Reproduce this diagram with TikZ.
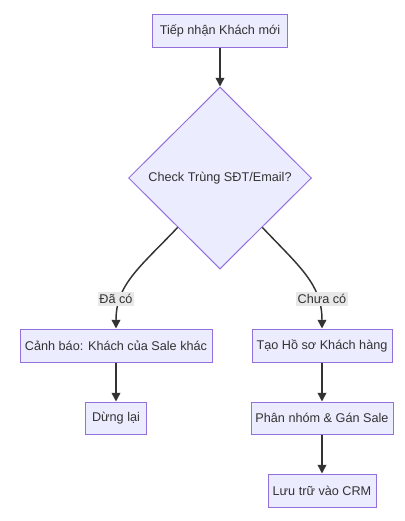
\documentclass[tikz,border=0pt]{standalone}
\usepackage{fontspec}
\setmainfont{Liberation Sans}
\usetikzlibrary{shapes.geometric,arrows.meta,calc}
\definecolor{boxfill}{HTML}{ECECFF}
\definecolor{boxline}{HTML}{9370DB}
\definecolor{edgecol}{HTML}{333333}
\definecolor{labfill}{HTML}{E8E8E8}
\begin{document}
\begin{tikzpicture}[x=0.75pt,y=-0.75pt,
  every node/.style={font=\fontsize{9.5pt}{11pt}\selectfont, text=edgecol},
  procbox/.style={draw=boxline, fill=boxfill, line width=0.75pt, rectangle, inner sep=0pt, minimum height=24.75pt},
  decbox/.style={draw=boxline, fill=boxfill, line width=0.75pt, diamond, aspect=1, inner sep=0pt, minimum width=137.25pt, minimum height=136.5pt},
  flow/.style={draw=edgecol, line width=1.1pt, -{Triangle[length=6.5pt,width=6.5pt]}},
  elabel/.style={fill=labfill, inner xsep=1pt, inner ysep=1.5pt}
]
\useasboundingbox (0,0) rectangle (404,521);

\node[procbox, minimum width=101.25pt] (start) at (220,30.5) {Tiếp nhận Khách mới};
\node[decbox] (check) at (220,178) {Check Trùng SĐT/Email?};
\node[procbox, minimum width=144pt] (warn) at (116,345.5) {Cảnh báo: Khách của Sale khác};
\node[procbox, minimum width=105pt] (create) at (322,345.5) {Tạo Hồ sơ Khách hàng};
\node[procbox, minimum width=45.75pt, minimum height=24pt] (stop) at (116,418) {Dừng lại};
\node[procbox, minimum width=106.5pt, minimum height=24pt] (group) at (322,418) {Phân nhóm \& Gán Sale};
\node[procbox, minimum width=81pt] (store) at (322,490.5) {Lưu trữ vào CRM};

\coordinate (lstart) at ($(check.west)!0.54!(check.south)$);
\coordinate (rstart) at ($(check.east)!0.54!(check.south)$);

\draw[flow] (start.south) -- (check.north);
\draw[flow] (lstart) .. controls ($(lstart)+(-38,40)$) and ($(warn.north)+(0,-44)$) .. (warn.north);
\draw[flow] (rstart) .. controls ($(rstart)+(38,40)$) and ($(create.north)+(0,-44)$) .. (create.north);
\draw[flow] (warn.south) -- (stop.north);
\draw[flow] (create.south) -- (group.north);
\draw[flow] (group.south) -- (store.north);

\node[elabel] (lyes) at (116,299) {Đã có};
\node[elabel] (lno) at (322,299) {Chưa có};
\end{tikzpicture}
\end{document}
